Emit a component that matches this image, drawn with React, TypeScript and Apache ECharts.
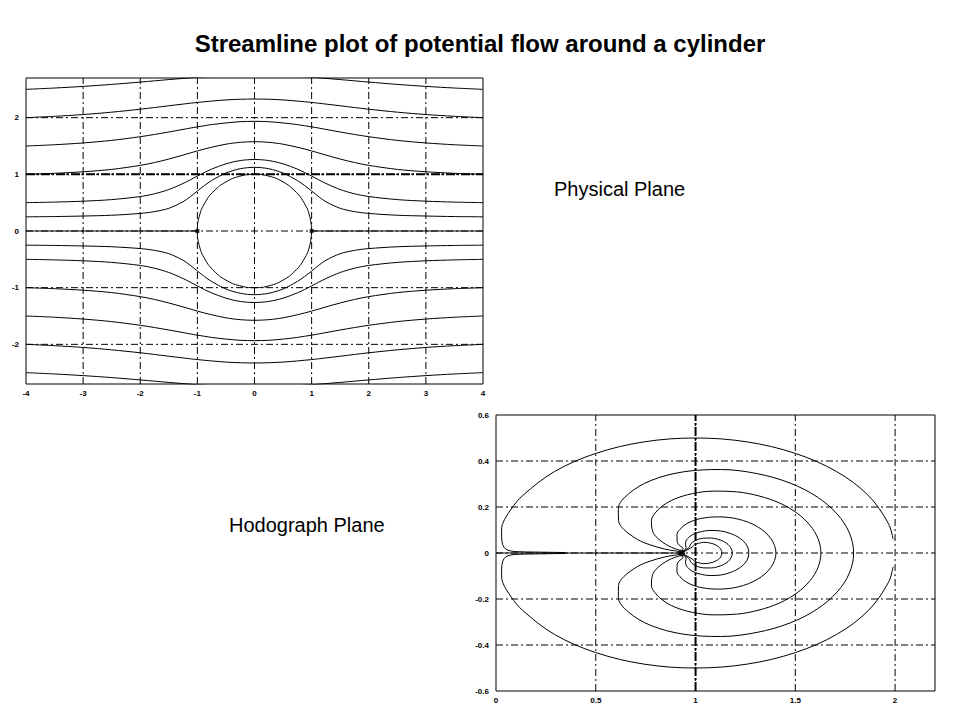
import React, { useEffect, useRef } from 'react';
import * as echarts from 'echarts';

const titleText = 'Streamline plot of potential flow around a cylinder';
const physicalLabel = 'Physical Plane';
const hodographLabel = 'Hodograph Plane';

// Physical plane axes
const physXTicks = [-4, -3, -2, -1, 0, 1, 2, 3, 4];
const physYTicks = [-2, -1, 0, 1, 2];
const physGridX = [-3, -2, -1, 0, 1, 2, 3];
const physGridY = [-2, -1, 0, 1, 2];
const physXMin = -4;
const physXMax = 4;
const physYMin = -2.7;
const physYMax = 2.7;

// Hodograph plane axes
const hodoXTicks = [0, 0.5, 1, 1.5, 2];
const hodoYTicks = [-0.6, -0.4, -0.2, 0, 0.2, 0.4, 0.6];
const hodoGridX = [0.5, 1, 1.5, 2];
const hodoGridY = [-0.4, -0.2, 0, 0.2, 0.4];
const hodoXMin = 0;
const hodoXMax = 2.2;
const hodoYMin = -0.6;
const hodoYMax = 0.6;

// Streamlines (physical plane): x stations and y of each streamline
const streamX = [-4, -3.5, -3, -2.5, -2, -1.75, -1.5, -1.25, -1.125, -1, -0.875, -0.75, -0.5, -0.25, 0, 0.25, 0.5, 0.75, 0.875, 1, 1.125, 1.25, 1.5, 1.75, 2, 2.5, 3, 3.5, 4];
const lineA = [2.5, 2.523, 2.552, 2.587, 2.628, 2.65, 2.672, 2.693, 2.703, 2.713, 2.721, 2.728, 2.741, 2.749, 2.751, 2.749, 2.741, 2.728, 2.721, 2.713, 2.703, 2.693, 2.672, 2.65, 2.628, 2.587, 2.552, 2.523, 2.5];
const lineB = [2.0, 2.024, 2.055, 2.097, 2.149, 2.179, 2.21, 2.24, 2.255, 2.269, 2.281, 2.293, 2.313, 2.325, 2.329, 2.325, 2.313, 2.293, 2.281, 2.269, 2.255, 2.24, 2.21, 2.179, 2.149, 2.097, 2.055, 2.024, 2.0];
const lineC = [1.5, 1.522, 1.554, 1.599, 1.664, 1.704, 1.747, 1.793, 1.816, 1.838, 1.858, 1.878, 1.907, 1.929, 1.935, 1.929, 1.907, 1.878, 1.858, 1.838, 1.816, 1.793, 1.747, 1.704, 1.664, 1.599, 1.554, 1.522, 1.5];
const lineD = [1.0, 1.018, 1.045, 1.087, 1.158, 1.208, 1.27, 1.34, 1.377, 1.413, 1.447, 1.478, 1.532, 1.565, 1.576, 1.565, 1.532, 1.478, 1.447, 1.413, 1.377, 1.34, 1.27, 1.208, 1.158, 1.087, 1.045, 1.018, 1.0];
const lineE = [0.5, 0.51, 0.526, 0.554, 0.608, 0.657, 0.732, 0.839, 0.903, 0.969, 1.033, 1.092, 1.185, 1.243, 1.262, 1.243, 1.185, 1.092, 1.033, 0.969, 0.903, 0.839, 0.732, 0.657, 0.608, 0.554, 0.526, 0.51, 0.5];
const lineF = [0.25, 0.255, 0.264, 0.278, 0.31, 0.342, 0.4, 0.517, 0.605, 0.706, 0.804, 0.891, 1.023, 1.099, 1.124, 1.099, 1.023, 0.891, 0.804, 0.706, 0.605, 0.517, 0.4, 0.342, 0.31, 0.278, 0.264, 0.255, 0.25];
const lineFLow = [-0.25, -0.255, -0.264, -0.278, -0.31, -0.342, -0.4, -0.517, -0.605, -0.706, -0.804, -0.891, -1.023, -1.099, -1.124, -1.099, -1.023, -0.891, -0.804, -0.706, -0.605, -0.517, -0.4, -0.342, -0.31, -0.278, -0.264, -0.255, -0.25];
const lineELow = [-0.5, -0.51, -0.526, -0.554, -0.608, -0.657, -0.732, -0.839, -0.903, -0.969, -1.033, -1.092, -1.185, -1.243, -1.262, -1.243, -1.185, -1.092, -1.033, -0.969, -0.903, -0.839, -0.732, -0.657, -0.608, -0.554, -0.526, -0.51, -0.5];
const lineDLow = [-1.0, -1.018, -1.045, -1.087, -1.158, -1.208, -1.27, -1.34, -1.377, -1.413, -1.447, -1.478, -1.532, -1.565, -1.576, -1.565, -1.532, -1.478, -1.447, -1.413, -1.377, -1.34, -1.27, -1.208, -1.158, -1.087, -1.045, -1.018, -1.0];
const lineCLow = [-1.5, -1.522, -1.554, -1.599, -1.664, -1.704, -1.747, -1.793, -1.816, -1.838, -1.858, -1.878, -1.907, -1.929, -1.935, -1.929, -1.907, -1.878, -1.858, -1.838, -1.816, -1.793, -1.747, -1.704, -1.664, -1.599, -1.554, -1.522, -1.5];
const lineBLow = [-2.0, -2.024, -2.055, -2.097, -2.149, -2.179, -2.21, -2.24, -2.255, -2.269, -2.281, -2.293, -2.313, -2.325, -2.329, -2.325, -2.313, -2.293, -2.281, -2.269, -2.255, -2.24, -2.21, -2.179, -2.149, -2.097, -2.055, -2.024, -2.0];
const lineALow = [-2.5, -2.523, -2.552, -2.587, -2.628, -2.65, -2.672, -2.693, -2.703, -2.713, -2.721, -2.728, -2.741, -2.749, -2.751, -2.749, -2.741, -2.728, -2.721, -2.713, -2.703, -2.693, -2.672, -2.65, -2.628, -2.587, -2.552, -2.523, -2.5];

// Cylinder surface
const circleX = [1, 0.966, 0.866, 0.707, 0.5, 0.259, 0, -0.259, -0.5, -0.707, -0.866, -0.966, -1, -0.966, -0.866, -0.707, -0.5, -0.259, 0, 0.259, 0.5, 0.707, 0.866, 0.966, 1];
const circleY = [0, 0.259, 0.5, 0.707, 0.866, 0.966, 1, 0.966, 0.866, 0.707, 0.5, 0.259, 0, -0.259, -0.5, -0.707, -0.866, -0.966, -1, -0.966, -0.866, -0.707, -0.5, -0.259, 0];

// Dividing streamline on the axis (upstream / downstream)
const axisLeftX = [-4, -1];
const axisRightX = [1, 4];
const axisY = [0, 0];
const stagnationX = [-1, 1];
const stagnationY = [0, 0];
const thickPhysX = [-4, 4];
const thickPhysY = [1, 1];

// Hodograph curves
const hodoF_u = [0.93, 0.920, 0.891, 0.846, 0.767, 0.709, 0.640, 0.614, 0.613, 0.663, 0.776, 0.940, 1.126, 1.309, 1.474, 1.609, 1.709, 1.771, 1.792, 1.771, 1.709, 1.609, 1.474, 1.309, 1.126, 0.940, 0.776, 0.663, 0.613, 0.614, 0.640, 0.709, 0.767, 0.846, 0.891, 0.920, 0.93];
const hodoF_v = [0, -0.006, -0.010, -0.017, -0.037, -0.059, -0.103, -0.141, -0.193, -0.256, -0.315, -0.353, -0.363, -0.345, -0.304, -0.244, -0.170, -0.087, 0, 0.087, 0.170, 0.244, 0.304, 0.345, 0.363, 0.353, 0.315, 0.256, 0.193, 0.141, 0.103, 0.059, 0.037, 0.017, 0.010, 0.006, 0];
const hodoE_u = [0.93, 0.923, 0.899, 0.862, 0.810, 0.785, 0.779, 0.796, 0.833, 0.896, 0.984, 1.090, 1.205, 1.318, 1.422, 1.509, 1.574, 1.614, 1.628, 1.614, 1.574, 1.509, 1.422, 1.318, 1.205, 1.090, 0.984, 0.896, 0.833, 0.796, 0.779, 0.785, 0.810, 0.862, 0.899, 0.923, 0.93];
const hodoE_v = [0, -0.011, -0.018, -0.032, -0.064, -0.094, -0.142, -0.172, -0.204, -0.235, -0.258, -0.269, -0.266, -0.248, -0.217, -0.173, -0.120, -0.062, 0, 0.062, 0.120, 0.173, 0.217, 0.248, 0.266, 0.269, 0.258, 0.235, 0.204, 0.172, 0.142, 0.094, 0.064, 0.032, 0.018, 0.011, 0];
const hodoD_u = [0.93, 0.937, 0.922, 0.908, 0.907, 0.922, 0.957, 1.021, 1.111, 1.215, 1.311, 1.378, 1.403, 1.378, 1.311, 1.215, 1.111, 1.021, 0.957, 0.922, 0.907, 0.908, 0.922, 0.937, 0.93];
const hodoD_v = [0, -0.020, -0.031, -0.049, -0.081, -0.103, -0.128, -0.149, -0.157, -0.147, -0.114, -0.062, 0, 0.062, 0.114, 0.147, 0.157, 0.149, 0.128, 0.103, 0.081, 0.049, 0.031, 0.020, 0];
const hodoC_u = [0.93, 0.953, 0.950, 0.952, 0.973, 0.996, 1.029, 1.072, 1.124, 1.177, 1.224, 1.256, 1.267, 1.256, 1.224, 1.177, 1.124, 1.072, 1.029, 0.996, 0.973, 0.952, 0.950, 0.953, 0.93];
const hodoC_v = [0, -0.025, -0.036, -0.052, -0.073, -0.084, -0.093, -0.098, -0.096, -0.084, -0.063, -0.034, 0, 0.034, 0.063, 0.084, 0.096, 0.098, 0.093, 0.084, 0.073, 0.052, 0.036, 0.025, 0];
const hodoB_u = [0.93, 0.970, 0.973, 0.984, 1.008, 1.028, 1.052, 1.080, 1.110, 1.139, 1.163, 1.179, 1.184, 1.179, 1.163, 1.139, 1.110, 1.080, 1.052, 1.028, 1.008, 0.984, 0.973, 0.970, 0.93];
const hodoB_v = [0, -0.027, -0.035, -0.046, -0.058, -0.063, -0.065, -0.065, -0.060, -0.051, -0.037, -0.019, 0, 0.019, 0.037, 0.051, 0.060, 0.065, 0.065, 0.063, 0.058, 0.046, 0.035, 0.027, 0];
const hodoA_u = [0.93, 0.983, 0.990, 1.003, 1.024, 1.039, 1.056, 1.073, 1.091, 1.107, 1.121, 1.129, 1.132, 1.129, 1.121, 1.107, 1.091, 1.073, 1.056, 1.039, 1.024, 1.003, 0.990, 0.983, 0.93];
const hodoA_v = [0, -0.026, -0.032, -0.039, -0.044, -0.046, -0.046, -0.043, -0.039, -0.032, -0.023, -0.012, 0, 0.012, 0.023, 0.032, 0.039, 0.043, 0.046, 0.046, 0.044, 0.039, 0.032, 0.026, 0];
const outerUp_u = [1.99, 1.966, 1.866, 1.707, 1.5, 1.259, 1.0, 0.741, 0.5, 0.293, 0.134, 0.076, 0.034, 0.028, 0.03, 0.04, 0.06, 0.1, 0.2, 0.35];
const outerUp_v = [0.06, 0.129, 0.25, 0.354, 0.433, 0.483, 0.5, 0.483, 0.433, 0.354, 0.25, 0.191, 0.129, 0.09, 0.05, 0.025, 0.012, 0.006, 0.004, 0.002];
const outerLow_u = [1.99, 1.966, 1.866, 1.707, 1.5, 1.259, 1.0, 0.741, 0.5, 0.293, 0.134, 0.076, 0.034, 0.028, 0.03, 0.04, 0.06, 0.1, 0.2, 0.35];
const outerLow_v = [-0.06, -0.129, -0.25, -0.354, -0.433, -0.483, -0.5, -0.483, -0.433, -0.354, -0.25, -0.191, -0.129, -0.09, -0.05, -0.025, -0.012, -0.006, -0.004, -0.002];
const hodoAxisU = [0, 0.93];
const hodoAxisV = [0, 0];
const hodoDotU = [0.93];
const hodoDotV = [0];
const thickHodoU = [1, 1];
const thickHodoV = [-0.6, 0.6];

const zip = (xs: number[], ys: number[]) => xs.map((x, i) => [x, ys[i]]);

export default function App() {
  const ref = useRef<HTMLDivElement>(null);

  useEffect(() => {
    if (!ref.current) return;
    const chart = echarts.init(ref.current, null, { renderer: 'svg' });

    const dashDot = [7, 3, 2, 3];
    const curve = (data: number[][], gi: number, extra: any = {}) => ({
      type: 'line',
      xAxisIndex: gi,
      yAxisIndex: gi,
      data,
      showSymbol: false,
      symbol: 'none',
      silent: true,
      smooth: 0.3,
      z: 3,
      lineStyle: { color: '#000', width: 1 },
      ...extra,
    });
    const gridLine = (data: number[][], gi: number) =>
      curve(data, gi, { smooth: false, z: 1, lineStyle: { color: '#000', width: 1, type: dashDot } });

    const series: any[] = [];
    physGridX.forEach((x) => series.push(gridLine([[x, physYMin], [x, physYMax]], 0)));
    physGridY.forEach((y) => series.push(gridLine([[physXMin, y], [physXMax, y]], 0)));
    hodoGridX.forEach((x) => series.push(gridLine([[x, hodoYMin], [x, hodoYMax]], 1)));
    hodoGridY.forEach((y) => series.push(gridLine([[hodoXMin, y], [hodoXMax, y]], 1)));

    series.push(curve(zip(thickPhysX, thickPhysY), 0, { smooth: false, lineStyle: { color: '#000', width: 2, type: [9, 2, 2, 2] } }));
    series.push(curve(zip(thickHodoU, thickHodoV), 1, { smooth: false, lineStyle: { color: '#000', width: 2, type: [9, 2, 2, 2] } }));

    [lineA, lineB, lineC, lineD, lineE, lineF, lineFLow, lineELow, lineDLow, lineCLow, lineBLow, lineALow].forEach((ys) =>
      series.push(curve(zip(streamX, ys), 0))
    );
    series.push(curve(zip(circleX, circleY), 0, { smooth: 0.5 }));
    series.push(curve(zip(axisLeftX, axisY), 0, { smooth: false }));
    series.push(curve(zip(axisRightX, axisY), 0, { smooth: false }));
    series.push({
      type: 'scatter', xAxisIndex: 0, yAxisIndex: 0, silent: true, z: 4,
      data: zip(stagnationX, stagnationY), symbol: 'rect', symbolSize: 4, itemStyle: { color: '#000' },
    });

    [[hodoF_u, hodoF_v], [hodoE_u, hodoE_v], [hodoD_u, hodoD_v], [hodoC_u, hodoC_v], [hodoB_u, hodoB_v], [hodoA_u, hodoA_v]].forEach(([u, v]) =>
      series.push(curve(zip(u, v), 1, { smooth: 0.35 }))
    );
    series.push(curve(zip(outerUp_u, outerUp_v), 1, { smooth: 0.35 }));
    series.push(curve(zip(outerLow_u, outerLow_v), 1, { smooth: 0.35 }));
    series.push(curve(zip(hodoAxisU, hodoAxisV), 1, { smooth: false }));
    series.push({
      type: 'scatter', xAxisIndex: 1, yAxisIndex: 1, silent: true, z: 4,
      data: zip(hodoDotU, hodoDotV), symbol: 'circle', symbolSize: 7, itemStyle: { color: '#000' },
    });

    const labelStyle = { fontSize: 8, fontWeight: 'bold', color: '#000', fontFamily: 'Liberation Sans' };

    chart.setOption({
      animation: false,
      backgroundColor: '#fff',
      grid: [
        { left: 26, top: 78, width: 457, height: 306, show: true, borderColor: '#000', borderWidth: 1, backgroundColor: 'transparent' },
        { left: 496, top: 415, width: 439, height: 276, show: true, borderColor: '#000', borderWidth: 1, backgroundColor: 'transparent' },
      ],
      xAxis: [
        {
          gridIndex: 0, type: 'value', min: physXMin, max: physXMax,
          axisLine: { show: false }, axisTick: { show: false }, splitLine: { show: false },
          axisLabel: { ...labelStyle, margin: 5, customValues: physXTicks },
        },
        {
          gridIndex: 1, type: 'value', min: hodoXMin, max: hodoXMax,
          axisLine: { show: false }, axisTick: { show: false }, splitLine: { show: false },
          axisLabel: { ...labelStyle, margin: 5, customValues: hodoXTicks },
        },
      ],
      yAxis: [
        {
          gridIndex: 0, type: 'value', min: physYMin, max: physYMax,
          axisLine: { show: false }, axisTick: { show: false }, splitLine: { show: false },
          axisLabel: { ...labelStyle, margin: 7, customValues: physYTicks },
        },
        {
          gridIndex: 1, type: 'value', min: hodoYMin, max: hodoYMax,
          axisLine: { show: false }, axisTick: { show: false }, splitLine: { show: false },
          axisLabel: { ...labelStyle, margin: 7, customValues: hodoYTicks },
        },
      ],
      graphic: [
        {
          type: 'text', x: 480, y: 43, silent: true,
          style: { text: titleText, fontSize: 24, fontWeight: 'bold', fontFamily: 'Liberation Sans', fill: '#000', align: 'center', verticalAlign: 'middle' },
        },
        {
          type: 'text', x: 554, y: 189, silent: true,
          style: { text: physicalLabel, fontSize: 20, fontFamily: 'Liberation Sans', fill: '#000', align: 'left', verticalAlign: 'middle' },
        },
        {
          type: 'text', x: 229, y: 525, silent: true,
          style: { text: hodographLabel, fontSize: 20, fontFamily: 'Liberation Sans', fill: '#000', align: 'left', verticalAlign: 'middle' },
        },
      ],
      series,
    });

    return () => chart.dispose();
  }, []);

  return (
    <div
      ref={ref}
      style={{ position: 'fixed', left: 0, top: 0, width: 959, height: 719, background: '#fff' }}
    />
  );
}
